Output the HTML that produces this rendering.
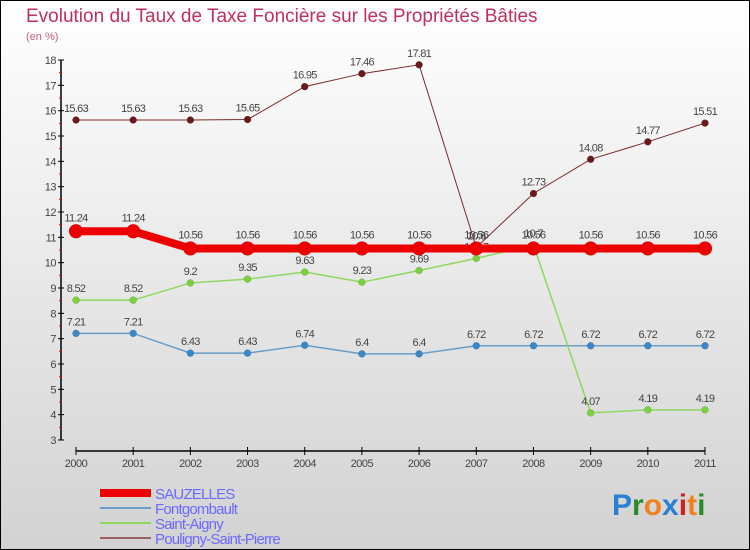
<!DOCTYPE html>
<html><head><meta charset="utf-8"><style>
body{margin:0}
#c{width:750px;height:550px;position:relative;box-sizing:border-box;border:1px solid #000;background:linear-gradient(#ffffff,#d2d2d2);font-family:"Liberation Sans",sans-serif;overflow:hidden}
</style></head><body>
<div id="c">
<svg id="s" width="750" height="550" style="position:absolute;left:-1px;top:-1px">
<text x="26" y="22" font-size="19" fill="#c0305a">Evolution du Taux de Taxe Foncière sur les Propriétés Bâties</text>
<text x="26" y="40" font-size="11" fill="#c0608a">(en %)</text>
<text x="612" y="515" font-size="30" font-weight="bold"><tspan fill="#2a7fd4">P</tspan><tspan fill="#2a8a2a">r</tspan><tspan fill="#f08020">o</tspan><tspan fill="#2a7fd4">x</tspan><tspan fill="#d02020">i</tspan><tspan fill="#f08020">t</tspan><tspan fill="#2a8a2a">i</tspan></text>
</svg>
</div>
<script>
const years=[2000,2001,2002,2003,2004,2005,2006,2007,2008,2009,2010,2011];
const yTicks=[3,4,5,6,7,8,9,10,11,12,13,14,15,16,17,18];
const sauzelles=[11.24,11.24,10.56,10.56,10.56,10.56,10.56,10.56,10.56,10.56,10.56,10.56];
const fontgombault=[7.21,7.21,6.43,6.43,6.74,6.4,6.4,6.72,6.72,6.72,6.72,6.72];
const saintAigny=[8.52,8.52,9.2,9.35,9.63,9.23,9.69,10.17,10.7,4.07,4.19,4.19];
const pouligny=[15.63,15.63,15.63,15.65,16.95,17.46,17.81,10.6,12.73,14.08,14.77,15.51];
const seriesNames=["SAUZELLES","Fontgombault","Saint-Aigny","Pouligny-Saint-Pierre"];
const NS="http://www.w3.org/2000/svg";
const svg=document.getElementById('s');
const X=i=>76+i*(629/(years.length-1));
const Y=v=>440-(v-3)*(380/15);
function el(t,a,p){const e=document.createElementNS(NS,t);for(const k in a)e.setAttribute(k,a[k]);(p||svg).appendChild(e);return e;}
let ax=el('line',{x1:61,y1:60,x2:61,y2:440,stroke:'#000','stroke-width':1.5});


yTicks.forEach(v=>{
 el('line',{x1:58,y1:Y(v),x2:64,y2:Y(v),stroke:'#000'});
 if(v<18)el('line',{x1:59,y1:Y(v+0.5),x2:62,y2:Y(v+0.5),stroke:'#e00'});
 const t=el('text',{x:56,y:Y(v)+4,'font-size':11,fill:'#444','text-anchor':'end','letter-spacing':'-0.5'});
 t.textContent=v;
 
 
});
let xa=el('line',{x1:76,y1:451,x2:705,y2:451,stroke:'#000','stroke-width':1.5});


years.forEach((y,i)=>{
 el('line',{x1:X(i),y1:447,x2:X(i),y2:455,stroke:'#000'});
 const t=el('text',{x:X(i),y:467,'font-size':11,fill:'#444','text-anchor':'middle','letter-spacing':'-0.5'});
 t.textContent=y;
 
 
});
function series(data,color,dot,w,r,name,labOff){
 const g=el('g',{});
 
 
 el('polyline',{points:data.map((v,i)=>X(i)+','+Y(v)).join(' '),fill:'none',stroke:color,'stroke-width':w},g);
 data.forEach((v,i)=>{
  const c=el('circle',{cx:X(i),cy:Y(v),r:r,fill:dot,stroke:'#0003','stroke-width':0.5},g);
  
  
  const t=el('text',{x:X(i),y:Y(v)-labOff,'font-size':11,fill:'#444','text-anchor':'middle','letter-spacing':'-0.7'},g);
  t.textContent=v;
  
  
 });
}
series(pouligny,'#7a2a2a','#6a1a1a',1,3.5,'pouligny',8);
series(fontgombault,'#6a9ec8','#3a88c8',1.5,3.5,'fontgombault',8);
series(saintAigny,'#8ed860','#7cd040',1.5,3.5,'saint-aigny',8);
series(sauzelles,'#ee0000','#ee0000',8,7,'sauzelles',10);
const lc=['#ee0000','#6a9ec8','#8ed860','#9a6060'],lw=[8,2,2,2];
seriesNames.forEach((n,i)=>{
 const y=493+i*15;
 const g=el('g',{});
 
 
 el('line',{x1:100,y1:y,x2:151,y2:y,stroke:lc[i],'stroke-width':lw[i]},g);
 const t=el('text',{x:155,y:y+6,'font-size':15,fill:'#6a6aff','letter-spacing':'-0.8'},g);
 t.textContent=n;
});
</script>
</body></html>
